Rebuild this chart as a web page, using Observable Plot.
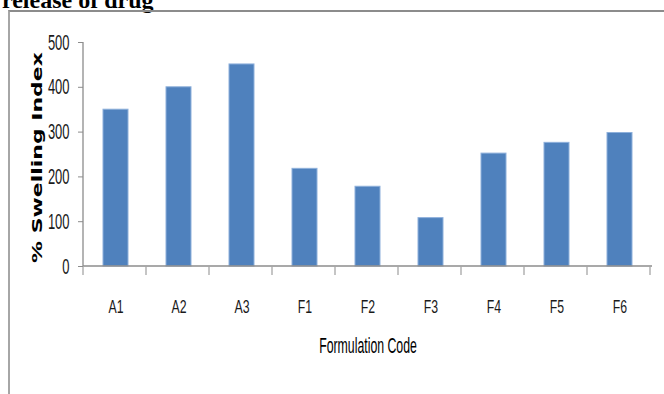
<!DOCTYPE html>
<html><head><meta charset="utf-8">
<script src="https://cdn.jsdelivr.net/npm/d3@7"></script>
<script src="https://cdn.jsdelivr.net/npm/@observablehq/plot@0.6"></script>
<style>
html,body{margin:0;padding:0;background:#fff;}
#wrap{position:relative;width:664px;height:394px;overflow:hidden;background:#fff;}
#doc{position:absolute;left:2px;top:-12px;font:bold 24px/24px "Liberation Serif","Times New Roman",serif;color:#000;white-space:nowrap;}
#frame{position:absolute;left:8px;top:10px;right:-4px;bottom:-4px;border-top:2px solid #8c8c8c;border-left:2px solid #a6a6a6;}
#chart{position:absolute;left:0;top:0;}
</style></head>
<body><div id="wrap"><div id="doc">release of drug</div><div id="frame"></div><div id="chart"></div></div>
<script>
const categories = ["A1","A2","A3","F1","F2","F3","F4","F5","F6"];
const swelling = [350, 400, 451, 218, 178, 108, 252, 276, 298];
const yTicks = [0, 100, 200, 300, 400, 500];
const xTitle = "Formulation Code";
const yTitle = "% Swelling Index";

const rows = categories.map((c, i) => ({code: c, value: swelling[i]}));

function axisLines(...args) {
  const scales = args.find(a => a && typeof a === "object" && typeof a.x === "function" && typeof a.y === "function");
  const dims = args.find(a => a && typeof a === "object" && "marginLeft" in a && "width" in a);
  const x0 = dims.marginLeft, x1 = dims.width - dims.marginRight;
  const yb = scales.y(0), yt = scales.y(d3.max(yTicks));
  const step = scales.x(categories[1]) - scales.x(categories[0]);
  const g = d3.create("svg:g").attr("stroke", "#8c8c8c").attr("stroke-width", 1.3).attr("fill", "none");
  g.append("line").attr("x1", x0).attr("x2", x0).attr("y1", yt).attr("y2", yb);
  g.append("line").attr("x1", x0).attr("x2", x1).attr("y1", yb).attr("y2", yb);
  for (let k = 0; k <= categories.length; k++) {
    const xx = x0 + k * step;
    g.append("line").attr("x1", xx).attr("x2", xx).attr("y1", yb).attr("y2", yb + 9).attr("stroke", "#a6a6a6");
  }
  return g.node();
}

const sans = "'Liberation Sans',Arial,sans-serif";

const plot = Plot.plot({
  width: 664, height: 394,
  marginTop: 42, marginBottom: 128, marginLeft: 83, marginRight: 12,
  style: {background: "transparent", fontFamily: sans, color: "#1a1a1a", overflow: "visible"},
  x: {domain: categories, paddingInner: 0.6, paddingOuter: 0.3, axis: null},
  y: {domain: [0, 500], axis: null},
  marks: [
    Plot.barY(rows, {x: "code", y: "value", fill: "#4f81bd", stroke: "#8eb0db", strokeWidth: 1}),
    axisLines,
    Plot.axisY({ticks: yTicks, tickSize: 5, tickPadding: 9, stroke: "#8c8c8c", fontSize: 16, label: null}),
    Plot.axisX({tickSize: 0, tickPadding: 34, fontSize: 15, label: null}),
    Plot.text([yTitle], {text: d => d, frameAnchor: "left", textAnchor: "middle", rotate: -90, dx: -46, dy: 3, fontSize: 14, fontWeight: "bold", fontFamily: "'DejaVu Sans',Verdana,sans-serif", fill: "#000"}),
    Plot.text([xTitle], {text: d => d, frameAnchor: "bottom", textAnchor: "middle", lineAnchor: "top", dy: 73, fontSize: 15, fill: "#000"})
  ]
});
document.getElementById("chart").appendChild(plot);

function stretch(el, sx, sy, anchorRight) {
  const b = el.getBBox();
  const cx = anchorRight ? b.x + b.width : b.x + b.width / 2, cy = b.y + b.height / 2;
  const t = el.getAttribute("transform") || "";
  el.setAttribute("transform", `${t} translate(${cx},${cy}) scale(${sx},${sy}) translate(${-cx},${-cy})`);
}
const yTickLabels = new Set(yTicks.map(String));
const xTickLabels = new Set(categories);
d3.select(plot).selectAll("text").each(function() {
  const s = this.textContent;
  if (s === yTitle) stretch(this, 1.57, 1);
  else if (s === xTitle) stretch(this, 0.82, 1.5);
  else if (yTickLabels.has(s)) stretch(this, 0.81, 1.36, true);
  else if (xTickLabels.has(s)) stretch(this, 0.82, 1.25);
});
</script>
</body></html>
